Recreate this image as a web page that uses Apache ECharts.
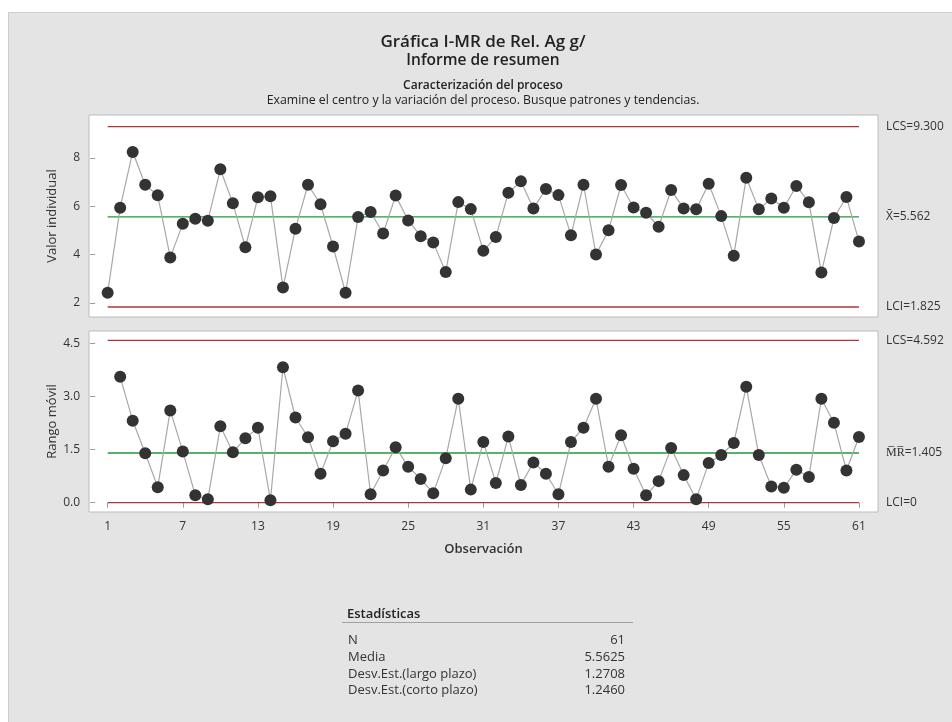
<!DOCTYPE html>
<html>
<head>
<meta charset="utf-8">
<script src="https://cdn.jsdelivr.net/npm/echarts@6/dist/echarts.min.js"></script>
<style>
  html, body { margin: 0; padding: 0; background: #ffffff; }
  #bg { position: absolute; left: 8px; top: 12px; right: 0; bottom: 0; background: #e4e4e4; border-left: 1px solid #cdcdcd; border-top: 1px solid #cdcdcd; }
  #chart { position: absolute; left: 0; top: 0; width: 952px; height: 722px; }
</style>
</head>
<body>
<div id="bg"></div>
<div id="chart"></div>
<script>
// ---- Data ----
const observations = [1,2,3,4,5,6,7,8,9,10,11,12,13,14,15,16,17,18,19,20,21,22,23,24,25,26,27,28,29,30,31,32,33,34,35,36,37,38,39,40,41,42,43,44,45,46,47,48,49,50,51,52,53,54,55,56,57,58,59,60,61];
const individualValues = [2.41,5.94,8.25,6.89,6.45,3.88,5.27,5.48,5.40,7.53,6.12,4.30,6.37,6.41,2.63,5.07,6.89,6.08,4.33,2.41,5.55,5.76,4.87,6.44,5.41,4.76,4.50,3.27,6.17,5.88,4.15,4.72,6.56,7.03,5.91,6.71,6.46,4.80,6.89,4.00,5.00,6.88,5.95,5.73,5.15,6.67,5.91,5.87,6.93,5.59,3.95,7.18,5.87,6.32,5.94,6.84,6.16,3.25,5.51,6.38,4.54];
const mrObservations = [2,3,4,5,6,7,8,9,10,11,12,13,14,15,16,17,18,19,20,21,22,23,24,25,26,27,28,29,30,31,32,33,34,35,36,37,38,39,40,41,42,43,44,45,46,47,48,49,50,51,52,53,54,55,56,57,58,59,60,61];
const movingRanges = [3.56,2.32,1.40,0.44,2.61,1.45,0.21,0.10,2.16,1.43,1.82,2.12,0.07,3.83,2.41,1.85,0.82,1.74,1.95,3.17,0.24,0.91,1.57,1.02,0.67,0.27,1.26,2.94,0.37,1.72,0.56,1.87,0.50,1.14,0.82,0.24,1.72,2.12,2.94,1.02,1.91,0.96,0.21,0.61,1.55,0.78,0.10,1.12,1.35,1.69,3.28,1.35,0.46,0.42,0.93,0.73,2.94,2.26,0.91,1.86];
const iLimits = { lcs: 9.300, center: 5.562, lci: 1.825 };
const mrLimits = { lcs: 4.592, center: 1.405, lci: 0 };
const xTicks = [1,7,13,19,25,31,37,43,49,55,61];
const iTicks = [2,4,6,8];
const mrTicks = [0,1.5,3.0,4.5];
const statLabels = ['N','Media','Desv.Est.(largo plazo)','Desv.Est.(corto plazo)'];
const statValues = ['61','5.5625','1.2708','1.2460'];

// ---- Styles ----
const FONT = 'Open Sans';
const TXT = '#333333';
const RED = '#b03535';
const GREEN = '#22983a';

const chart = echarts.init(document.getElementById('chart'), null, { renderer: 'canvas' });

function pairs(xs, ys) { return xs.map((x, i) => [x, ys[i]]); }

function limitSeries(gridIdx, v, color, text) {
  return {
    type: 'line', xAxisIndex: gridIdx, yAxisIndex: gridIdx, silent: true, z: 2,
    data: [[observations[0], v], [observations[observations.length - 1], v]],
    symbol: 'none', showSymbol: false,
    lineStyle: { color: color, width: 1.3, type: 'solid' },
    itemStyle: { color: color },
    endLabel: { show: true, distance: 27, formatter: text, color: TXT, fontFamily: FONT, fontSize: 12 },
    emphasis: { disabled: true }
  };
}

function pointSeries(gridIdx, xs, ys) {
  return {
    type: 'line', xAxisIndex: gridIdx, yAxisIndex: gridIdx, data: pairs(xs, ys),
    symbol: 'circle', symbolSize: 12, z: 5,
    itemStyle: { color: '#333333', borderWidth: 0 },
    lineStyle: { color: '#a8a8a8', width: 1.2 }
  };
}

const xAxisBase = {
  type: 'value', min: -0.49, max: 62.52,
  splitLine: { show: false }, axisLine: { show: false }
};

const option = {
  animation: false,
  backgroundColor: 'transparent',
  textStyle: { fontFamily: FONT },
  grid: [
    { left: 89, right: 74, top: 115, height: 202, show: true, backgroundColor: '#ffffff', borderColor: '#bcbcbc', borderWidth: 1, containLabel: false },
    { left: 89, right: 74, top: 331, height: 181, show: true, backgroundColor: '#ffffff', borderColor: '#bcbcbc', borderWidth: 1, containLabel: false }
  ],
  xAxis: [
    Object.assign({}, xAxisBase, { gridIndex: 0, axisTick: { show: false }, axisLabel: { show: false } }),
    Object.assign({}, xAxisBase, {
      gridIndex: 1,
      name: 'Observación', nameLocation: 'middle', nameGap: 31, nameMoveOverlap: false,
      nameTextStyle: { color: TXT, fontFamily: FONT, fontSize: 13, fontWeight: 600 },
      axisTick: { show: true, length: 5, lineStyle: { color: '#9a9a9a' }, customValues: xTicks },
      axisLabel: { show: true, color: TXT, fontFamily: FONT, fontSize: 12, margin: 9, customValues: xTicks }
    })
  ],
  yAxis: [
    { type: 'value', gridIndex: 0, min: 1.41, max: 9.78,
      name: 'Valor individual', nameLocation: 'middle', nameGap: 30, nameRotate: 90, nameMoveOverlap: false,
      nameTextStyle: { color: TXT, fontFamily: FONT, fontSize: 13 },
      splitLine: { show: false }, axisLine: { show: false },
      axisTick: { show: true, length: 5, lineStyle: { color: '#9a9a9a' }, customValues: iTicks },
      axisLabel: { color: TXT, fontFamily: FONT, fontSize: 12, margin: 9, customValues: iTicks } },
    { type: 'value', gridIndex: 1, min: -0.263, max: 4.856,
      name: 'Rango móvil', nameLocation: 'middle', nameGap: 30, nameRotate: 90, nameMoveOverlap: false,
      nameTextStyle: { color: TXT, fontFamily: FONT, fontSize: 13 },
      splitLine: { show: false }, axisLine: { show: false },
      axisTick: { show: true, length: 5, lineStyle: { color: '#9a9a9a' }, customValues: mrTicks },
      axisLabel: { color: TXT, fontFamily: FONT, fontSize: 12, margin: 9, customValues: mrTicks,
        formatter: v => Number(v).toFixed(1) } }
  ],
  series: [
    limitSeries(0, iLimits.lcs, RED, 'LCS=' + iLimits.lcs.toFixed(3)),
    limitSeries(0, iLimits.center, GREEN, 'X\u0304=' + iLimits.center.toFixed(3)),
    limitSeries(0, iLimits.lci, RED, 'LCI=' + iLimits.lci.toFixed(3)),
    limitSeries(1, mrLimits.lcs, RED, 'LCS=' + mrLimits.lcs.toFixed(3)),
    limitSeries(1, mrLimits.center, GREEN, 'M\u0305R\u0305=' + mrLimits.center.toFixed(3)),
    limitSeries(1, mrLimits.lci, RED, 'LCI=' + mrLimits.lci),
    pointSeries(0, observations, individualValues),
    pointSeries(1, mrObservations, movingRanges)
  ],
  graphic: [
    { type: 'text', x: 483, y: 42, style: { text: 'Gráfica I-MR de Rel. Ag g/', font: '600 17px "' + FONT + '"', fill: '#222', align: 'center', verticalAlign: 'middle' } },
    { type: 'text', x: 483, y: 61, style: { text: 'Informe de resumen', font: '600 15.5px "' + FONT + '"', fill: '#222', align: 'center', verticalAlign: 'middle' } },
    { type: 'text', x: 483, y: 86, style: { text: 'Caracterización del proceso', font: '600 12px "' + FONT + '"', fill: '#222', align: 'center', verticalAlign: 'middle' } },
    { type: 'text', x: 483, y: 100, style: { text: 'Examine el centro y la variación del proceso. Busque patrones y tendencias.', font: '12.3px "' + FONT + '"', fill: '#222', align: 'center', verticalAlign: 'middle' } },
    { type: 'text', x: 347, y: 614, style: { text: 'Estadísticas', font: '600 13px "' + FONT + '"', fill: '#222', align: 'left', verticalAlign: 'middle' } },
    { type: 'line', shape: { x1: 342, y1: 622.5, x2: 633, y2: 622.5 }, style: { stroke: '#a0a0a0', lineWidth: 1 } }
  ].concat(statLabels.map((t, i) => ({ type: 'text', x: 348, y: 640 + i * 16.9, style: { text: t, font: '13px "' + FONT + '"', fill: TXT, align: 'left', verticalAlign: 'middle' } })))
   .concat(statValues.map((t, i) => ({ type: 'text', x: 625, y: 640 + i * 16.9, style: { text: t, font: '13px "' + FONT + '"', fill: TXT, align: 'right', verticalAlign: 'middle' } })))
};

chart.setOption(option);
</script>
</body>
</html>
